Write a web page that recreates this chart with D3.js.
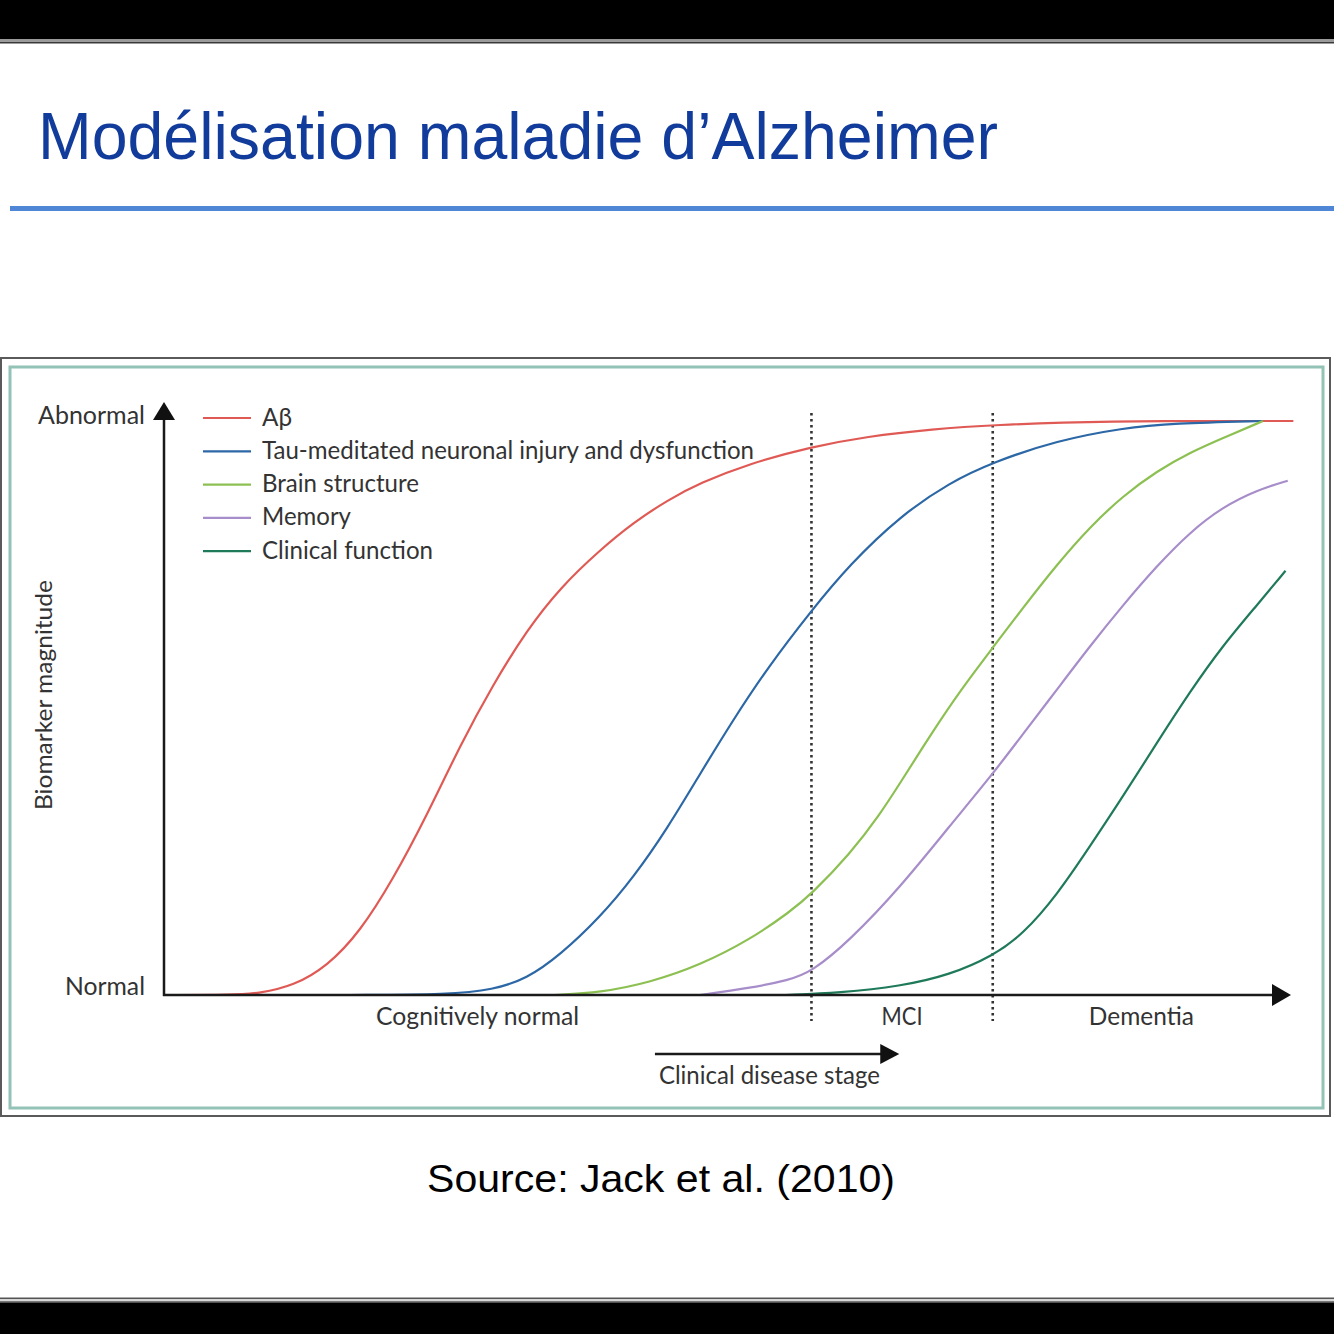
<!DOCTYPE html>
<html><head><meta charset="utf-8">
<script src="https://cdn.jsdelivr.net/npm/d3@7"></script>
<style>body{margin:0;background:#fff;overflow:hidden}</style>
</head><body>
<svg id="c" width="1334" height="1334"></svg>
<script>
// ---------- data ----------
const seriesNames = ["Aβ", "Tau-meditated neuronal injury and dysfunction", "Brain structure", "Memory", "Clinical function"];
const seriesColors = ["#e05a55", "#2c67a6", "#8dc052", "#a78dca", "#1f7a5a"];
// [disease progression (0-100), biomarker magnitude (0 = normal, 100 = abnormal)]
const abeta = [[0,0],[6,0],[8.5,0.3],[11.5,1.6],[14.5,5],[17.4,11],[20.3,20],[23.4,31.5],[26.3,43.5],[29.2,54],[32.2,63.5],[35.2,71],[38.7,77.5],[41.7,82.3],[44.7,86.2],[47.6,89.2],[52,92.6],[57.5,95.5],[62.4,97.3],[68.3,98.6],[73.6,99.3],[83,100],[100.3,100]];
const tau = [[16.5,0],[25.4,0.1],[29.2,0.9],[32.2,2.8],[35.2,7],[38.7,13.5],[41.7,20.5],[44.7,29],[47.6,38.5],[50.5,47.8],[53.6,57],[57.5,67],[60.9,75],[65.4,83.5],[69.8,89.3],[73.6,92.8],[79.3,96.6],[85.2,98.8],[89.6,99.6],[97.6,100]];
const brain = [[34.7,0],[38.7,0.4],[43.2,2.2],[47.6,5.2],[52,9.6],[55.6,14.5],[57.5,17.6],[60.9,24.5],[63.6,31.5],[65.4,37],[68.3,46],[70.7,53],[73.6,60.5],[76.3,67.5],[79.3,75],[82.2,81.5],[85.2,87],[88.2,91.3],[91.1,94.5],[94,97],[97.6,100]];
const memory = [[47.6,0],[52,1.2],[55.5,2.6],[57.5,4],[60.9,9.5],[65.4,18.8],[69.8,29.5],[73.6,38.5],[76.3,45.5],[79.3,53.2],[82.2,60.7],[85.2,68],[88.2,74.8],[91.1,80.6],[94,85],[97.1,88],[99.8,89.6]];
const clinical = [[55.2,0],[60,0.4],[65.4,1.5],[69.8,3.5],[73.6,6.8],[76.3,10.6],[79.3,17.4],[82.2,25.8],[85.2,34.7],[88.2,44],[91.1,52.8],[94,60.8],[97.1,68],[99.6,73.9]];
const seriesData = [abeta, tau, brain, memory, clinical];

const stageNames = ["Cognitively normal", "MCI", "Dementia"];
const stageBounds = [-1.8, 57.5, 73.6, 100];     // stage limits on the progression axis
const stageDividers = [57.5, 73.6];                // dotted lines
const yLevelLabels = ["Normal", "Abnormal"];
const yLevels = [0, 100];
const stageArrowSpan = [43.6, 65.3];               // "Clinical disease stage" arrow
const titleText = "Modélisation maladie d’Alzheimer";
const yAxisTitle = "Biomarker magnitude";
const stageAxisTitle = "Clinical disease stage";
const sourceText = "Source: Jack et al. (2010)";

// ---------- drawing ----------
const svg = d3.select("#c");
const W = 1334, H = 1334;
const font = "Lato, 'Open Sans', sans-serif";
const ink = "#333";

// slide frame bands
svg.append("rect").attr("x",0).attr("y",0).attr("width",W).attr("height",39).attr("fill","#000");
svg.append("rect").attr("x",0).attr("y",39).attr("width",W).attr("height",2).attr("fill","#9a9a9a");
svg.append("rect").attr("x",0).attr("y",41.5).attr("width",W).attr("height",2).attr("fill","#3a3a3a");
svg.append("rect").attr("x",0).attr("y",1297.5).attr("width",W).attr("height",1.8).attr("fill","#555");
svg.append("rect").attr("x",0).attr("y",1299.3).attr("width",W).attr("height",2).attr("fill","#d8d8d8");
svg.append("rect").attr("x",0).attr("y",1301.3).attr("width",W).attr("height",1.5).attr("fill","#444");
svg.append("rect").attr("x",0).attr("y",1302.8).attr("width",W).attr("height",H-1302.8).attr("fill","#000");

// title
svg.append("text").attr("x",38).attr("y",159)
  .attr("font-family","Arial, 'Liberation Sans', sans-serif").attr("font-size",66)
  .attr("fill","#123c9c").attr("textLength",960).attr("lengthAdjust","spacingAndGlyphs")
  .text(titleText);
svg.append("line").attr("x1",10).attr("x2",W).attr("y1",208.5).attr("y2",208.5)
  .attr("stroke","#4f86d6").attr("stroke-width",5);

// chart frames
svg.append("rect").attr("x",1).attr("y",358).attr("width",1329).attr("height",758)
  .attr("fill","#fff").attr("stroke","#5a5a5a").attr("stroke-width",2);
svg.append("rect").attr("x",10).attr("y",367).attr("width",1313).attr("height",741)
  .attr("fill","#fff").attr("stroke","#93c2b6").attr("stroke-width",3);

// scales
const x = d3.scaleLinear().domain([0,100]).range([164,1290]);
const y = d3.scaleLinear().domain([0,100]).range([995,421]);

// dotted stage dividers
svg.selectAll("line.div").data(stageDividers).join("line")
  .attr("x1",d=>x(d)).attr("x2",d=>x(d))
  .attr("y1",y(100)-8).attr("y2",y(0)+26)
  .attr("stroke","#333").attr("stroke-width",2.6).attr("stroke-dasharray","2.6,3.4");

// curves
const line = d3.line().x(d=>x(d[0])).y(d=>y(d[1])).curve(d3.curveBasis);
svg.selectAll("path.curve").data(seriesData).join("path")
  .attr("class","curve").attr("d",line).attr("fill","none")
  .attr("stroke",(d,i)=>seriesColors[i]).attr("stroke-width",2.2);

// axes
const x0 = x(0), yb = y(0);
svg.append("line").attr("x1",x0).attr("x2",x0).attr("y1",yb+1).attr("y2",y(100)-2)
  .attr("stroke","#1a1a1a").attr("stroke-width",2.5);
svg.append("path").attr("d",`M${x0},${y(100)-19}L${x0-11},${y(100)-1}L${x0+11},${y(100)-1}Z`).attr("fill","#111");
svg.append("line").attr("x1",x0-1).attr("x2",x(100)-16).attr("y1",yb).attr("y2",yb)
  .attr("stroke","#1a1a1a").attr("stroke-width",2.5);
svg.append("path").attr("d",`M${x(100)+1},${yb}L${x(100)-18},${yb-11}L${x(100)-18},${yb+11}Z`).attr("fill","#111");

// y level labels
svg.selectAll("text.lvl").data(yLevels).join("text")
  .attr("x",x0-19).attr("y",d=>y(d)+(d===100?3:0))
  .attr("text-anchor","end").attr("font-family",font).attr("font-size",25).attr("fill",ink)
  .attr("textLength",(d,i)=>i===1?107:80).attr("lengthAdjust","spacingAndGlyphs")
  .text((d,i)=>yLevelLabels[i]);

// y axis title
svg.append("text").attr("transform","translate(52,695) rotate(-90)")
  .attr("text-anchor","middle").attr("font-family",font).attr("font-size",24).attr("fill",ink)
  .attr("textLength",230).attr("lengthAdjust","spacingAndGlyphs").text(yAxisTitle);

// stage labels
const stageWidths = [203, 41, 105];
svg.selectAll("text.stage").data(stageNames).join("text")
  .attr("x",(d,i)=>(x(stageBounds[i])+x(stageBounds[i+1]))/2).attr("y",yb+30)
  .attr("text-anchor","middle").attr("font-family",font).attr("font-size",25).attr("fill",ink)
  .attr("textLength",(d,i)=>stageWidths[i]).attr("lengthAdjust","spacingAndGlyphs")
  .text(d=>d);

// clinical disease stage arrow
const ay = 1054;
svg.append("line").attr("x1",x(stageArrowSpan[0])).attr("x2",x(stageArrowSpan[1])-14).attr("y1",ay).attr("y2",ay)
  .attr("stroke","#1a1a1a").attr("stroke-width",2.5);
svg.append("path").attr("d",`M${x(stageArrowSpan[1])},${ay}L${x(stageArrowSpan[1])-19},${ay-10}L${x(stageArrowSpan[1])-19},${ay+10}Z`).attr("fill","#111");
svg.append("text").attr("x",x(stageArrowSpan[0])+4).attr("y",1084)
  .attr("font-family",font).attr("font-size",25).attr("fill",ink)
  .attr("textLength",221).attr("lengthAdjust","spacingAndGlyphs").text(stageAxisTitle);

// legend
const legendWidths = [30, 492, 157, 89, 171];
const lg = svg.append("g");
seriesNames.forEach((n,i)=>{
  const ly = 418 + i*33.3;
  lg.append("line").attr("x1",203).attr("x2",251).attr("y1",ly).attr("y2",ly)
    .attr("stroke",seriesColors[i]).attr("stroke-width",2.2);
  lg.append("text").attr("x",262).attr("y",ly+7.5)
    .attr("font-family",font).attr("font-size",25).attr("fill",ink)
    .attr("textLength",legendWidths[i]).attr("lengthAdjust","spacingAndGlyphs").text(n);
});

// source
svg.append("text").attr("x",661).attr("y",1192).attr("text-anchor","middle")
  .attr("font-family","Arial, 'Liberation Sans', sans-serif").attr("font-size",39).attr("fill","#000")
  .attr("textLength",468).attr("lengthAdjust","spacingAndGlyphs").text(sourceText);
</script>
</body></html>
